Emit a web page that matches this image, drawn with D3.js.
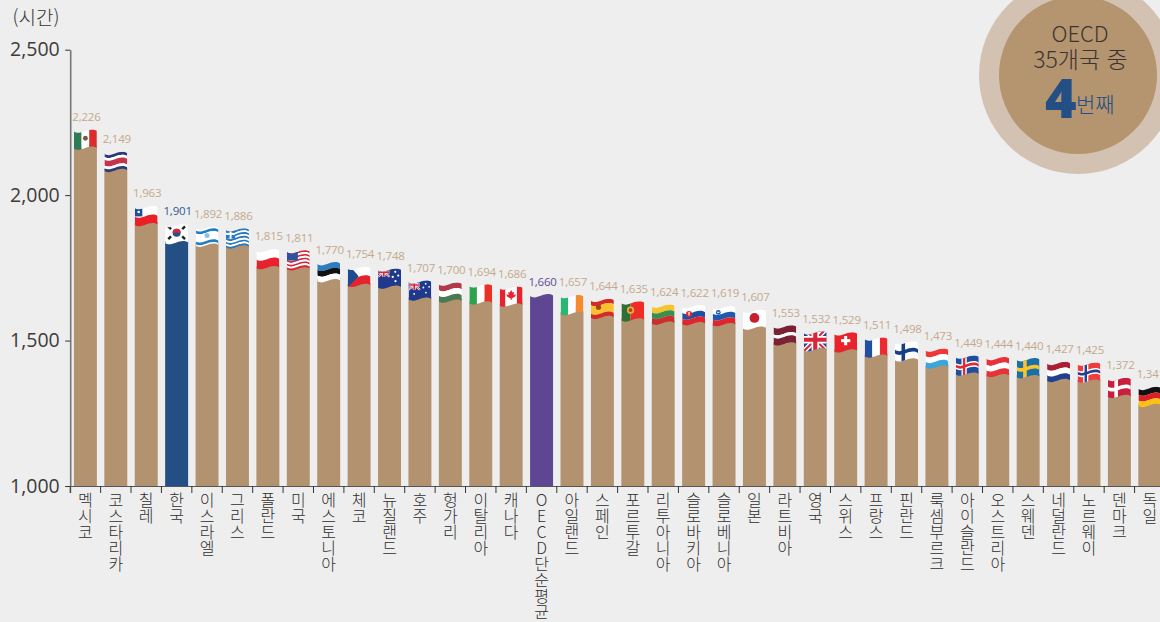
<!DOCTYPE html>
<html lang="ko">
<head>
<meta charset="utf-8">
<script src="https://cdn.jsdelivr.net/npm/d3@7"></script>
<style>
html, body { margin: 0; padding: 0; background: #eeeeee; overflow: hidden; }
text { font-family: "Open Sans", "Noto Sans CJK KR", sans-serif; }
.kr { font-family: "Noto Sans CJK KR", sans-serif; }
</style>
</head>
<body>
<div id="chart"></div>
<script>
const categories = ["멕시코", "코스타리카", "칠레", "한국", "이스라엘", "그리스", "폴란드", "미국", "에스토니아", "체코",
    "뉴질랜드", "호주", "헝가리", "이탈리아", "캐나다", "OECD단순평균", "아일랜드", "스페인", "포르투갈", "리투아니아",
    "슬로바키아", "슬로베니아", "일본", "라트비아", "영국", "스위스", "프랑스", "핀란드", "룩셈부르크", "아이슬란드",
    "오스트리아", "스웨덴", "네덜란드", "노르웨이", "덴마크", "독일"];
const hours = [2226, 2149, 1963, 1901, 1892, 1886, 1815, 1811, 1770, 1754,
    1748, 1707, 1700, 1694, 1686, 1660, 1657, 1644, 1635, 1624,
    1622, 1619, 1607, 1553, 1532, 1529, 1511, 1498, 1473, 1449,
    1444, 1440, 1427, 1425, 1372, 1341];
const yTicks = [1000, 1500, 2000, 2500];
const unitLabel = "(시간)";

const width = 1160, height = 622;
const barColor = "#b39270", koreaColor = "#234f85", oecdColor = "#5f4692";

const svg = d3.select("#chart")
    .append("svg")
    .attr("width", width)
    .attr("height", height)
    .style("display", "block");

svg.append("rect").attr("width", width).attr("height", height).attr("fill", "#eeeeee");

// 36 bands, the last one runs off the right edge
const x = d3.scaleBand()
    .domain(categories)
    .range([70.2, 1165])
    .paddingInner(0.245)
    .paddingOuter(0.1225);

const y = d3.scaleLinear()
    .domain([1000, 2500])
    .range([486, 49.7]);

const bw = x.bandwidth();
const step = x.step();
const flagH = 17;

// wavy edge of the flag cloth, 0 = top of the wave
function wave(dy) {
    return "M0," + (dy + 2) + "C" + (bw * 0.3) + "," + (dy + 7) + " " + (bw * 0.62) + "," + (dy - 3.6) + " " + bw + "," + (dy + 1.4);
}
function waveBack(dy) {
    return "L" + bw + "," + (dy + 1.4) + "C" + (bw * 0.62) + "," + (dy - 3.6) + " " + (bw * 0.3) + "," + (dy + 7) + " 0," + (dy + 2) + "Z";
}

svg.append("defs").append("clipPath")
    .attr("id", "flagClip")
    .append("path")
    .attr("d", wave(0) + waveBack(flagH));

// ---- flag drawing helpers, all in local flag coordinates ----
function band(g, t0, t1, color) {
    g.append("path").attr("d", wave(t0 * flagH) + waveBack(t1 * flagH)).attr("fill", color);
}
function stripes(g, colors, weights) {
    const w = weights || colors.map(() => 1);
    const sum = d3.sum(w);
    let t = 0;
    colors.forEach(function(c, i) {
        const next = t + w[i] / sum;
        // the first and last stripes run past the clip so no gap shows
        band(g, i === 0 ? -0.3 : t, i === colors.length - 1 ? 1.3 : next, c);
        t = next;
    });
}
function vbar(g, t0, t1, color) {
    g.append("rect").attr("x", t0 * bw).attr("y", -5).attr("width", (t1 - t0) * bw).attr("height", flagH + 10).attr("fill", color);
}
function vstripes(g, colors) {
    colors.forEach(function(c, i) { vbar(g, i / colors.length, (i + 1) / colors.length, c); });
}
function box(g, x0, y0, w, h, color) {
    g.append("rect").attr("x", x0).attr("y", y0).attr("width", w).attr("height", h).attr("fill", color);
}
function dot(g, cx, cy, r, color) {
    g.append("circle").attr("cx", cx).attr("cy", cy).attr("r", r).attr("fill", color);
}
function nordic(g, bg, colorOuter, colorInner) {
    box(g, 0, -5, bw, flagH + 10, bg);
    const cx = bw * 0.36;
    const outer = colorInner ? 5.2 : 3.6;
    const half = colorInner ? 0.17 : 0.11;
    box(g, cx - outer / 2, -5, outer, flagH + 10, colorOuter);
    band(g, 0.5 - half, 0.5 + half, colorOuter);
    if (colorInner) {
        box(g, cx - 1.2, -5, 2.4, flagH + 10, colorInner);
        band(g, 0.5 - 0.08, 0.5 + 0.08, colorInner);
    }
}
function jack(g, x0, y0, w, h, bg) {
    box(g, x0, y0, w, h, bg);
    const line = (x1, y1, x2, y2, c, s) => g.append("line")
        .attr("x1", x0 + x1).attr("y1", y0 + y1).attr("x2", x0 + x2).attr("y2", y0 + y2)
        .attr("stroke", c).attr("stroke-width", s);
    line(0, 0, w, h, "#fff", h * 0.22);
    line(w, 0, 0, h, "#fff", h * 0.22);
    line(0, 0, w, h, "#d8273a", h * 0.09);
    line(w, 0, 0, h, "#d8273a", h * 0.09);
    line(w / 2, 0, w / 2, h, "#fff", h * 0.32);
    line(0, h / 2, w, h / 2, "#fff", h * 0.32);
    line(w / 2, 0, w / 2, h, "#d8273a", h * 0.18);
    line(0, h / 2, w, h / 2, "#d8273a", h * 0.18);
}

const flagArt = {
    "멕시코": g => { vstripes(g, ["#2c7d55", "#ffffff", "#dd2a2d"]); dot(g, bw / 2, flagH * 0.52, 2.4, "#7a5a35"); },
    "코스타리카": g => stripes(g, ["#2c3a7c", "#ffffff", "#c5344a", "#ffffff", "#2c3a7c"], [1, 1, 2, 1, 1]),
    "칠레": g => {
        stripes(g, ["#ffffff", "#ea2027"]);
        box(g, 0, -3, bw * 0.33, flagH * 0.5 + 5, "#1f4f9c");
        dot(g, bw * 0.17, flagH * 0.3 + 1, 1.3, "#ffffff");
    },
    "한국": g => {
        box(g, 0, -5, bw, flagH + 10, "#ffffff");
        const cx = bw / 2, cy = flagH / 2 + 0.3;
        dot(g, cx, cy, 4, "#23508f");
        g.append("path").attr("d", "M" + (cx - 4) + "," + cy + "A4,4 0 0 1 " + (cx + 4) + "," + cy + "Z").attr("fill", "#e0262f");
        [[-7, -5], [7, -5], [-7, 5], [7, 5]].forEach(function(p) {
            g.append("rect")
                .attr("x", cx + p[0] - 2).attr("y", cy + p[1] - 1.2).attr("width", 4).attr("height", 2.4)
                .attr("fill", "#222").attr("transform", "rotate(" + (p[0] * p[1] > 0 ? 45 : -45) + " " + (cx + p[0]) + " " + (cy + p[1]) + ")");
        });
    },
    "이스라엘": g => {
        stripes(g, ["#ffffff", "#1f7fc4", "#ffffff", "#1f7fc4", "#ffffff"], [1, 1.6, 5, 1.6, 1]);
        dot(g, bw / 2, flagH * 0.52, 2.5, "#8fc0e2");
    },
    "그리스": g => {
        stripes(g, ["#2878bd", "#ffffff", "#2878bd", "#ffffff", "#2878bd", "#ffffff", "#2878bd", "#ffffff", "#2878bd"]);
        box(g, 0, -3, bw * 0.4, flagH * 0.55 + 4, "#2878bd");
        box(g, bw * 0.2 - 1, -3, 2, flagH * 0.55 + 4, "#ffffff");
        box(g, 0, flagH * 0.27, bw * 0.4, 2, "#ffffff");
    },
    "폴란드": g => stripes(g, ["#ffffff", "#e8212c"]),
    "미국": g => {
        stripes(g, ["#d8273a", "#ffffff", "#d8273a", "#ffffff", "#d8273a", "#ffffff", "#d8273a", "#ffffff", "#d8273a"]);
        box(g, 0, -3, bw * 0.48, flagH * 0.56 + 4, "#2d52a0");
    },
    "에스토니아": g => stripes(g, ["#2b7cc0", "#111111", "#ffffff"]),
    "체코": g => {
        stripes(g, ["#ffffff", "#e4232d"]);
        g.append("path").attr("d", "M0,-3L" + (bw * 0.48) + "," + (flagH * 0.5 + 1) + "L0," + (flagH + 4) + "Z").attr("fill", "#1f4a94");
    },
    "뉴질랜드": g => {
        box(g, 0, -5, bw, flagH + 10, "#1f3a8c");
        jack(g, 0, -1, bw * 0.5, flagH * 0.55, "#1f3a8c");
        [[0.75, 0.2], [0.88, 0.42], [0.64, 0.5], [0.76, 0.75]].forEach(p => dot(g, bw * p[0], flagH * p[1], 1.1, "#ffffff"));
    },
    "호주": g => {
        box(g, 0, -5, bw, flagH + 10, "#1f3a8c");
        jack(g, 0, 0, bw * 0.5, flagH * 0.55, "#1f3a8c");
        [[0.75, 0.2], [0.9, 0.38], [0.65, 0.42], [0.76, 0.72], [0.25, 0.8]].forEach(p => dot(g, bw * p[0], flagH * p[1], 0.9, "#ffffff"));
    },
    "헝가리": g => stripes(g, ["#b03a48", "#ffffff", "#4a7a52"]),
    "이탈리아": g => vstripes(g, ["#2fa24f", "#ffffff", "#ee2f24"]),
    "캐나다": g => {
        vstripes(g, ["#e8232b", "#ffffff", "#ffffff", "#e8232b"]);
        g.append("path").attr("d", "M0,-5L1.4,-2.4L3,-3L2.4,0L4.8,-0.6L4,1.6L0.5,3.6L0.5,5L-0.5,5L-0.5,3.6L-4,1.6L-4.8,-0.6L-2.4,0L-3,-3L-1.4,-2.4Z")
            .attr("transform", "translate(" + (bw / 2) + "," + (flagH / 2) + ")").attr("fill", "#e8232b");
    },
    "아일랜드": g => vstripes(g, ["#2ab573", "#ffffff", "#f58a2e"]),
    "스페인": g => {
        stripes(g, ["#d62a28", "#fbc02d", "#d62a28"], [1, 2, 1]);
        dot(g, bw * 0.33, flagH * 0.5, 2.6, "#a8401f");
    },
    "포르투갈": g => {
        vbar(g, 0, 0.4, "#2f6e36");
        vbar(g, 0.4, 1, "#ef2d26");
        dot(g, bw * 0.4, flagH * 0.52, 3.6, "#e2b13c");
        dot(g, bw * 0.4, flagH * 0.52, 1.8, "#b33a2c");
    },
    "리투아니아": g => stripes(g, ["#f4c52f", "#3a8f50", "#c9302c"]),
    "슬로바키아": g => {
        stripes(g, ["#ffffff", "#1e4fa3", "#e0262c"]);
        dot(g, bw * 0.3, flagH * 0.52, 3, "#e0262c");
        box(g, bw * 0.3 - 0.6, flagH * 0.52 - 2, 1.2, 3.6, "#ffffff");
    },
    "슬로베니아": g => {
        stripes(g, ["#ffffff", "#1e5ab0", "#e0262c"]);
        dot(g, bw * 0.25, flagH * 0.38, 2.4, "#1e5ab0");
        box(g, bw * 0.25 - 1.2, flagH * 0.38 - 0.6, 2.4, 1, "#ffffff");
    },
    "일본": g => { box(g, 0, -5, bw, flagH + 10, "#ffffff"); dot(g, bw / 2, flagH * 0.5, 4.9, "#c6202e"); },
    "라트비아": g => stripes(g, ["#7a2233", "#ffffff", "#7a2233"], [2, 1, 2]),
    "영국": g => jack(g, 0, -3, bw, flagH + 6, "#24408e"),
    "스위스": g => {
        box(g, 0, -5, bw, flagH + 10, "#e8232b");
        box(g, bw / 2 - 1.5, flagH / 2 - 4.6, 3, 9.2, "#ffffff");
        box(g, bw / 2 - 4.6, flagH / 2 - 1.5, 9.2, 3, "#ffffff");
    },
    "프랑스": g => vstripes(g, ["#1f4ea3", "#ffffff", "#ee2a30"]),
    "핀란드": g => nordic(g, "#ffffff", "#163f85"),
    "룩셈부르크": g => stripes(g, ["#ee3a35", "#ffffff", "#38a7dc"]),
    "아이슬란드": g => nordic(g, "#1d4f9e", "#ffffff", "#e02a33"),
    "오스트리아": g => stripes(g, ["#e8323a", "#ffffff", "#e8323a"]),
    "스웨덴": g => nordic(g, "#1a6fa8", "#f8c52a"),
    "네덜란드": g => stripes(g, ["#ab1e34", "#ffffff", "#23408f"]),
    "노르웨이": g => nordic(g, "#ef3d3b", "#ffffff", "#233f8f"),
    "덴마크": g => nordic(g, "#c8203c", "#ffffff"),
    "독일": g => stripes(g, ["#111111", "#dd1f26", "#fbc116"])
};

function fillOf(name) {
    if (name === "한국") return koreaColor;
    if (name === "OECD단순평균") return oecdColor;
    return barColor;
}

// ---- bars, wavy on top, top of the flag sits on the value ----
const bars = svg.append("g").selectAll("g")
    .data(categories)
    .enter()
    .append("g")
    .attr("transform", (d, i) => "translate(" + x(d) + "," + y(hours[i]) + ")");

bars.append("path")
    .attr("d", function(d, i) {
        const top = d === "OECD단순평균" ? 0 : flagH - 2;
        return wave(top) + "L" + bw + "," + (y(1000) - y(hours[i])) + "L0," + (y(1000) - y(hours[i])) + "Z";
    })
    .attr("fill", d => fillOf(d));

// ---- flags ----
bars.filter(d => flagArt[d] !== undefined)
    .append("g")
    .attr("clip-path", "url(#flagClip)")
    .each(function(d) {
        flagArt[d](d3.select(this));
    });

// ---- value labels ----
svg.append("g").selectAll("text")
    .data(categories)
    .enter()
    .append("text")
    .attr("x", d => x(d) + bw / 2 + 1)
    .attr("y", (d, i) => y(hours[i]) - 8.5)
    .attr("text-anchor", "middle")
    .style("font-size", "11.5px")
    .style("letter-spacing", "-0.2px")
    .attr("fill", function(d) {
        if (d === "한국") return "#2f5a94";
        if (d === "OECD단순평균") return "#5f4a96";
        return "#c4a98d";
    })
    .text((d, i) => d3.format(",")(hours[i]));

// ---- x axis, ticks sit on the band edges ----
const xAxis = svg.append("g")
    .attr("transform", "translate(0," + y(1000) + ")")
    .call(d3.axisBottom(x).tickSizeOuter(0).tickSize(7).tickFormat(""));
xAxis.select("path.domain").attr("stroke", "#555555").attr("stroke-width", 1);
xAxis.selectAll("g.tick line")
    .attr("x1", -step / 2)
    .attr("x2", -step / 2)
    .attr("stroke", "#333333");

// names run downwards, upright characters
xAxis.selectAll("g.tick")
    .append("text")
    .attr("class", "kr")
    .attr("x", 0)
    .attr("y", 6)
    .attr("text-anchor", "start")
    .style("writing-mode", "vertical-rl")
    .style("text-orientation", "upright")
    .style("font-size", "16px")
    .style("font-weight", "300")
    .attr("fill", "#2e2e2e")
    .text(d => d);

// ---- y axis ----
const yAxis = svg.append("g")
    .attr("transform", "translate(70.2,0)")
    .call(d3.axisLeft(y).tickValues(yTicks).tickSize(5).tickSizeOuter(0).tickFormat(d3.format(",")));
yAxis.select("path.domain").attr("stroke", "#777777").attr("stroke-width", 1.6);
yAxis.selectAll("g.tick line").attr("stroke", "#333333");
yAxis.selectAll("g.tick text")
    .attr("x", -10.5)
    .style("font-size", "19.5px")
    .attr("fill", "#3c3c3c");

svg.append("text")
    .attr("class", "kr")
    .attr("x", 12.5)
    .attr("y", 25)
    .style("font-size", "19px")
    .style("font-weight", "300")
    .attr("fill", "#333333")
    .text(unitLabel);

// ---- badge top right ----
const badge = svg.append("g");
badge.append("circle").attr("cx", 1078).attr("cy", 75).attr("r", 99).attr("fill", "#d3c2b2");
badge.append("circle").attr("cx", 1078).attr("cy", 75).attr("r", 79).attr("fill", "#b59470");
badge.append("text")
    .attr("x", 1080).attr("y", 42)
    .attr("text-anchor", "middle")
    .attr("class", "kr")
    .style("font-size", "22px").style("font-weight", "300").attr("fill", "#3a3530")
    .text("OECD");
badge.append("text")
    .attr("x", 1080.5).attr("y", 68)
    .attr("text-anchor", "middle")
    .attr("class", "kr")
    .style("font-size", "23px").style("font-weight", "300").attr("fill", "#3a3530")
    .text("35개국 중");
badge.append("text")
    .attr("x", 1045).attr("y", 118)
    .style("font-size", "54px").style("font-weight", "800").attr("fill", "#234f85")
    .text("4");
badge.append("text")
    .attr("x", 1076).attr("y", 112)
    .attr("class", "kr")
    .style("font-size", "21px").style("font-weight", "300").attr("fill", "#234f85")
    .text("번째");
</script>
</body>
</html>
